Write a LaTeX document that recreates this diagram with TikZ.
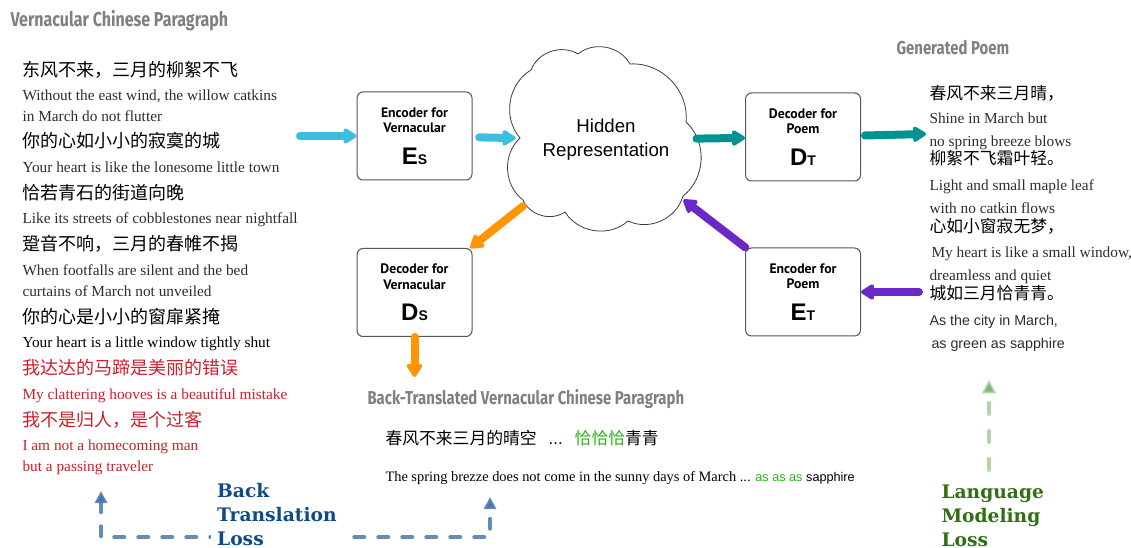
\documentclass[tikz,border=0pt]{standalone}
\usepackage{fontspec}
\usepackage{graphicx}
\setmainfont{Liberation Serif}
\setsansfont{Liberation Sans}
\newfontfamily\cjk{Noto Sans CJK SC}
\newfontfamily\boxfont{PT Sans}
\newfontfamily\handfont{Fira Sans}
\newfontfamily\lossfont{DejaVu Serif}
\usetikzlibrary{arrows.meta,shapes.geometric}

\definecolor{titlegray}{RGB}{128,128,128}
\definecolor{inkgray}{RGB}{45,45,45}
\definecolor{versered}{RGB}{204,31,42}
\definecolor{encblue}{RGB}{59,190,224}
\definecolor{decteal}{RGB}{0,146,146}
\definecolor{backorange}{RGB}{255,149,0}
\definecolor{poempurple}{RGB}{106,40,200}
\definecolor{matchgreen}{RGB}{40,180,20}
\definecolor{lossblue}{RGB}{14,74,138}
\definecolor{dashblue}{RGB}{70,120,170}
\definecolor{lossgreen}{RGB}{50,110,20}
\definecolor{dashgreen}{RGB}{130,185,110}

\newcommand{\handtitle}[1]{\scalebox{0.8}[1]{#1}}
\newcommand{\blocksym}[2]{{\sffamily\bfseries\fontsize{18}{18}\selectfont #1}{\sffamily\fontsize{10.5}{10.5}\selectfont #2}}

\tikzset{every picture/.style={line width=0.75pt}}
\tikzset{
  hand/.style={anchor=west, inner sep=0pt, text=titlegray, font=\handfont\bfseries\fontsize{14}{16}\selectfont},
  zhline/.style={anchor=west, inner sep=0pt, text height=11.9pt, text depth=1.6pt, text=black, font=\cjk\fontsize{13.5}{15}\selectfont},
  zhsmall/.style={zhline, text height=11.1pt, text depth=1.5pt, font=\cjk\fontsize{12.6}{14}\selectfont},
  enline/.style={anchor=west, inner sep=0pt, text height=10.5pt, text depth=2.3pt, text=inkgray, font=\fontsize{11.5}{13}\selectfont},
  sfline/.style={enline, font=\sffamily\fontsize{10.7}{12}\selectfont},
  blockbox/.style={draw={rgb,255:red,85;green,85;blue,85}, fill=white, rounded corners=4.5pt, minimum width=86.25pt, minimum height=66pt, inner sep=0pt, align=center, font=\boxfont\bfseries\fontsize{10.3}{11.5}\selectfont},
  cloudline/.style={draw={rgb,255:red,60;green,60;blue,60}, line width=0.6pt, fill=white},
  hiddenlabel/.style={ellipse, minimum width=135pt, minimum height=172.5pt, inner sep=0pt, align=center, font=\sffamily\fontsize{14}{18}\selectfont},
  fatarrow/.style={line width=6pt, line cap=round, -{Triangle[length=11pt,width=13pt,round]}},
  lossdash/.style={line width=3pt, line cap=round, dash pattern=on 7.5pt off 10.5pt},
  losstext/.style={anchor=west, align=left, inner sep=0pt, font=\lossfont\bfseries\fontsize{14}{18}\selectfont},
}

\begin{document}
\begin{tikzpicture}[x=0.75pt,y=0.75pt,yscale=-1,xscale=1]
\useasboundingbox (0,0) rectangle (1131,548);

% Titles
\node[hand, font=\handfont\bfseries\fontsize{15}{16}\selectfont] (srctitle) at (10,21) {\handtitle{Vernacular Chinese Paragraph}};
\node[hand] (poemtitle) at (896,48) {\handtitle{Generated Poem}};
\node[hand] (backtitle) at (367,399) {\handtitle{Back-Translated Vernacular Chinese Paragraph}};

% Vernacular paragraph
\node[zhline] (src1) at (22,70) {东风不来，三月的柳絮不飞};
\node[enline] (src2) at (22,95) {Without the east wind, the willow catkins};
\node[enline] (src3) at (22,116) {in March do not flutter};
\node[zhline] (src4) at (22,141) {你的心如小小的寂寞的城};
\node[enline] (src5) at (22,167) {Your heart is like the lonesome little town};
\node[zhline] (src6) at (22,193) {恰若青石的街道向晚};
\node[enline] (src7) at (22,218) {Like its streets of cobblestones near nightfall};
\node[zhline] (src8) at (22,244) {跫音不响，三月的春帷不揭};
\node[enline] (src9) at (22,270) {When footfalls are silent and the bed};
\node[enline] (src10) at (22,291) {curtains of March not unveiled};
\node[zhline] (src11) at (22,317) {你的心是小小的窗扉紧掩};
\node[enline, text=black] (src12) at (22,342) {Your heart is a little window tightly shut};
\node[zhline, text=versered] (src13) at (22,368) {我达达的马蹄是美丽的错误};
\node[enline, text=versered] (src14) at (22,394) {My clattering hooves is a beautiful mistake};
\node[zhline, text=versered] (src15) at (22,420) {我不是归人，是个过客};
\node[enline, text=versered] (src16) at (22,445) {I am not a homecoming man};
\node[enline, text=versered] (src17) at (22,466) {but a passing traveler};

% Generated poem
\node[zhsmall] (poem1) at (929,93) {春风不来三月晴，};
\node[enline] (poem2) at (929,118) {Shine in March but};
\node[enline] (poem3) at (929,141) {no spring breeze blows};
\node[zhsmall] (poem4) at (929,158) {柳絮不飞霜叶轻。};
\node[enline] (poem5) at (929,185) {Light and small maple leaf};
\node[enline] (poem6) at (929,208) {with no catkin flows};
\node[zhsmall] (poem7) at (929,226) {心如小窗寂无梦，};
\node[enline] (poem8) at (931,252) {My heart is like a small window,};
\node[enline] (poem9) at (929,275) {dreamless and quiet};
\node[zhsmall] (poem10) at (929,293) {城如三月恰青青。};
\node[sfline] (poem11) at (929,320) {As the city in March,};
\node[sfline] (poem12) at (931,343) {as green as sapphire};

% Back-translated paragraph
\node[zhsmall] (back1) at (385,438) {春风不来三月的晴空\hspace{9pt}{\sffamily ...}\hspace{9pt}\textcolor{matchgreen}{恰恰恰}青青};
\node[enline, text=black, font=\fontsize{10.8}{12}\selectfont] (back2) at (385,476) {The spring brezze does not come in the sunny days of March ... \textcolor{matchgreen}{\sffamily\fontsize{9.5}{12}\selectfont as as as} {\sffamily\fontsize{9.5}{12}\selectfont sapphire}};

% Blocks
\node[blockbox] (es) at (414.5,136) {Encoder for\\Vernacular\\[10pt]\blocksym{E}{S}};
\node[blockbox] (ds) at (414.5,292.5) {Decoder for\\Vernacular\\[10pt]\blocksym{D}{S}};
\node[blockbox] (dt) at (803,137) {Decoder for\\Poem\\[10pt]\blocksym{D}{T}};
\node[blockbox] (et) at (803,292) {Encoder for\\Poem\\[10pt]\blocksym{E}{T}};

% Cloud
\draw[cloudline] (520,138) to[bend right=50] (531,70) to[bend right=50] (578,54) to[bend right=50] (630,64) to[bend right=50] (686,122) to[bend right=50] (683,196) to[bend right=50] (628,221) to[bend right=50] (565,212) to[bend right=50] (523,200) to[bend right=50] (520,138) -- cycle;
\node[hiddenlabel] (hid) at (606,140) {Hidden\\Representation};

% Flow arrows
\coordinate (srcin) at (300,136);
\coordinate (poemout) at (926,134);
\coordinate (poemin) at (919,292);
\coordinate (backout) at (414.5,377);
\draw[fatarrow, encblue] (srcin) -- (es);
\draw[fatarrow, encblue, shorten <=5pt] (es) -- (hid);
\draw[fatarrow, decteal] (hid) -- (dt);
\draw[fatarrow, decteal, shorten <=3pt] (dt) -- (poemout);
\draw[fatarrow, backorange, shorten <=6pt] (hid) -- (ds);
\draw[fatarrow, backorange] (ds) -- (backout);
\draw[fatarrow, poempurple] (et) -- (hid);
\draw[fatarrow, poempurple] (poemin) -- (et);

% Losses
\coordinate (btleft) at (101,491);
\coordinate (btleftc) at (101,537);
\coordinate (btrightc) at (490,537);
\coordinate (btright) at (490,497);
\draw[lossdash, dashblue, draw opacity=0.85, {Triangle[length=9pt,width=9pt]}-{Triangle[length=9pt,width=9pt]}] (btleft) -- (btleftc) -- (btrightc) -- (btright);
\node[losstext, text=lossblue, fill=white, inner xsep=5pt] (btloss) at (210,515) {Back\\Translation\\Loss};

\coordinate (lmfoot) at (989,470);
\coordinate (lmtip) at (989,380);
\draw[lossdash, dashgreen, draw opacity=0.6, dash pattern=on 8.25pt off 12.75pt, -{Triangle[length=10pt,width=10pt]}] (lmfoot) -- (lmtip);
\node[losstext, text=lossgreen] (lmloss) at (941,516) {Language\\Modeling\\Loss};

\end{tikzpicture}
\end{document}
